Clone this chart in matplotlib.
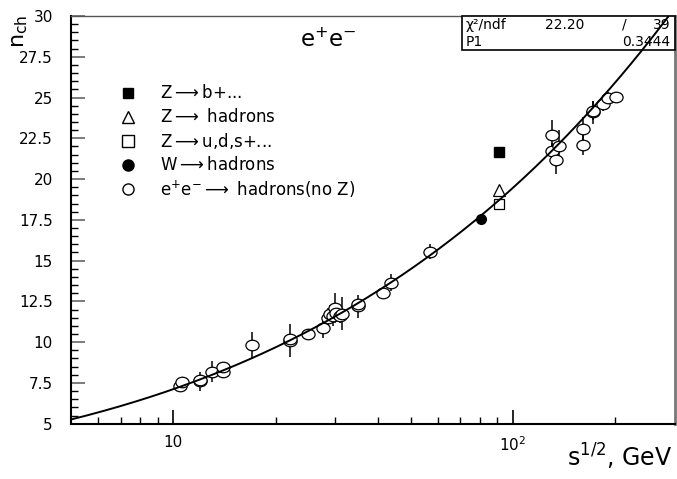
import numpy as np
import matplotlib

matplotlib.use("Agg")
import matplotlib.pyplot as plt
from matplotlib.path import Path
from matplotlib.patches import Rectangle
from matplotlib.ticker import FixedLocator, NullFormatter, FixedFormatter
from matplotlib.transforms import Affine2D

plt.rcParams["font.family"] = ["DejaVu Sans"]
plt.rcParams["mathtext.default"] = "regular"

# e+e- -> hadrons (no Z)
ee_x = [10.45, 10.6, 12.0, 12.0, 13.0, 14.0, 14.0, 17.0, 22.0, 22.0, 25.0, 27.6,
        28.5, 29.0, 29.5, 30.0, 30.2, 31.0, 31.3, 35.0, 35.0, 41.5, 43.8, 57.0,
        130.5, 130.5, 133.5, 136.5, 161.0, 161.0, 172.0, 172.5, 184.0, 190.0, 201.0]
ee_y = [7.33, 7.55, 7.6, 7.7, 8.2, 8.2, 8.45, 9.8, 10.1, 10.2, 10.5, 10.9,
        11.5, 11.75, 11.6, 12.1, 11.8, 11.6, 11.75, 12.2, 12.35, 13.0, 13.65, 15.55,
        22.7, 21.7, 21.2, 22.0, 23.1, 22.1, 24.1, 24.2, 24.6, 24.95, 25.05]
ee_err = [0.3, 0.3, 0.6, 0.3, 0.65, 0.4, 0.3, 0.85, 1.0, 0.3, 0.2, 0.65,
          0.6, 0.5, 0.6, 0.9, 0.5, 0.4, 1.0, 0.7, 0.3, 0.2, 0.5, 0.45,
          0.9, 0.5, 0.9, 1.0, 0.7, 0.6, 0.7, 0.6, 0.4, 0.4, 0.3]

# Z and W points
zb_x, zb_y, zb_err = [91.2], [21.65], [0.3]
zh_x, zh_y = [91.2], [19.35]
zuds_x, zuds_y = [91.2], [18.5]
w_x, w_y = [80.4], [17.55]

# fit curve parameters
fit_a, fit_b, fit_c = 2.5, 0.1997, 2.07

ellipse = Path.unit_circle().transformed(Affine2D().scale(1.0, 0.8))

fig = plt.figure(figsize=(6.77, 4.79), dpi=100)
ax = fig.add_axes([0.1049, 0.1154, 0.8922, 0.8512])
ax.set_xscale("log")
ax.set_xlim(5, 300)
ax.set_ylim(5, 30)

ax.errorbar(ee_x, ee_y, yerr=ee_err, fmt="none", ecolor="black", elinewidth=1.1, zorder=2)
ax.plot(ee_x, ee_y, ls="none", marker=ellipse, ms=9.5, mfc="white", mec="black", mew=0.9, zorder=3)
ax.errorbar(zb_x, zb_y, yerr=zb_err, fmt="none", ecolor="black", elinewidth=1.1, zorder=2)
ax.plot(zb_x, zb_y, ls="none", marker="s", ms=6.5, mfc="black", mec="black", zorder=3)
ax.plot(zh_x, zh_y, ls="none", marker="^", ms=8, mfc="none", mec="black", mew=0.9, zorder=3)
ax.plot(zuds_x, zuds_y, ls="none", marker="s", ms=7.5, mfc="none", mec="black", mew=0.9, zorder=3)
ax.plot(w_x, w_y, ls="none", marker="o", ms=7, mfc="black", mec="black", zorder=3)

xfit = np.geomspace(5, 300, 400)
yfit = fit_a + fit_b * np.exp(fit_c * np.sqrt(np.log(xfit)))
ax.plot(xfit, yfit, color="black", lw=1.4, zorder=7)

# axes styling
for side in ["left", "bottom"]:
    ax.spines[side].set_linewidth(1.5)
ax.spines["top"].set_linewidth(1.0)
ax.spines["top"].set_color("#555555")
ax.spines["right"].set_linewidth(2.0)
ax.spines["right"].set_color("#777777")

yticks = [5, 7.5, 10, 12.5, 15, 17.5, 20, 22.5, 25, 27.5, 30]
ax.yaxis.set_major_locator(FixedLocator(yticks))
ax.yaxis.set_major_formatter(FixedFormatter(["5", "7.5", "10", "12.5", "15", "17.5",
                                             "20", "22.5", "25", "27.5", "30"]))
ax.yaxis.set_minor_locator(FixedLocator(np.arange(5, 30.01, 0.5)))
ax.xaxis.set_major_locator(FixedLocator([10, 100]))
ax.xaxis.set_major_formatter(FixedFormatter(["10", "10$^{2}$"]))
minor_x = [6, 7, 8, 9, 20, 30, 40, 50, 60, 70, 80, 90, 200]
ax.xaxis.set_minor_locator(FixedLocator(minor_x))
ax.xaxis.set_minor_formatter(NullFormatter())

ax.tick_params(axis="y", which="major", direction="in", length=10, width=1.2,
               color="#666666", labelsize=11, pad=13, right=False)
ax.tick_params(axis="y", which="minor", direction="in", length=5, width=1.0, right=False)
ax.tick_params(axis="x", which="major", direction="in", length=10, width=1.2,
               labelsize=11, pad=8, top=False)
ax.tick_params(axis="x", which="minor", direction="in", length=5, width=1.0, top=False)

# legend
leg_mx, leg_tx = 0.0944, 0.147
rows = [0.811, 0.752, 0.693, 0.635, 0.576]
ax.plot(leg_mx, rows[0], transform=ax.transAxes, marker="s", ms=7, mfc="black", mec="black", clip_on=False)
ax.plot(leg_mx, rows[1], transform=ax.transAxes, marker="^", ms=9, mfc="none", mec="black", mew=1.0, clip_on=False)
ax.plot(leg_mx, rows[2], transform=ax.transAxes, marker="s", ms=8, mfc="none", mec="black", mew=1.0, clip_on=False)
ax.plot(leg_mx, rows[3], transform=ax.transAxes, marker="o", ms=8, mfc="black", mec="black", clip_on=False)
ax.plot(leg_mx, rows[4], transform=ax.transAxes, marker="o", ms=8, mfc="white", mec="black", mew=1.0, clip_on=False)
labels = ["Z$\\longrightarrow$b+...", "Z$\\longrightarrow$ hadrons", "Z$\\longrightarrow$u,d,s+...",
          "W$\\longrightarrow$hadrons", "e$^{+}$e$^{-}$$\\longrightarrow$ hadrons(no Z)"]
for y, lab in zip(rows, labels):
    ax.text(leg_tx, y, lab, transform=ax.transAxes, fontsize=12, va="center", ha="left")

ax.text(0.379, 0.941, "e$^{+}$e$^{-}$", transform=ax.transAxes, fontsize=16.5, va="center", ha="left")

# stats box
ax.add_patch(Rectangle((0.647, 0.9166), 0.353, 0.0834, transform=ax.transAxes,
                       facecolor="white", edgecolor="black", lw=1.2, zorder=5, clip_on=False))
row1, row2 = 0.978, 0.937
ax.text(0.654, row1, "χ²/ndf", transform=ax.transAxes, fontsize=10, va="center", zorder=6)
ax.text(0.785, row1, "22.20", transform=ax.transAxes, fontsize=10, va="center", zorder=6)
ax.text(0.912, row1, "/", transform=ax.transAxes, fontsize=10, va="center", zorder=6)
ax.text(0.992, row1, "39", transform=ax.transAxes, fontsize=10, va="center", ha="right", zorder=6)
ax.text(0.654, row2, "P1", transform=ax.transAxes, fontsize=10, va="center", zorder=6)
ax.text(0.992, row2, "0.3444", transform=ax.transAxes, fontsize=10, va="center", ha="right", zorder=6)

fig.text(0.03, 0.935, "n$_{ch}$", rotation=90, fontsize=16, ha="center", va="center")
fig.text(0.993, 0.015, "s$^{1/2}$, GeV", fontsize=17, ha="right", va="bottom")

fig.savefig("out.png", dpi=100)
